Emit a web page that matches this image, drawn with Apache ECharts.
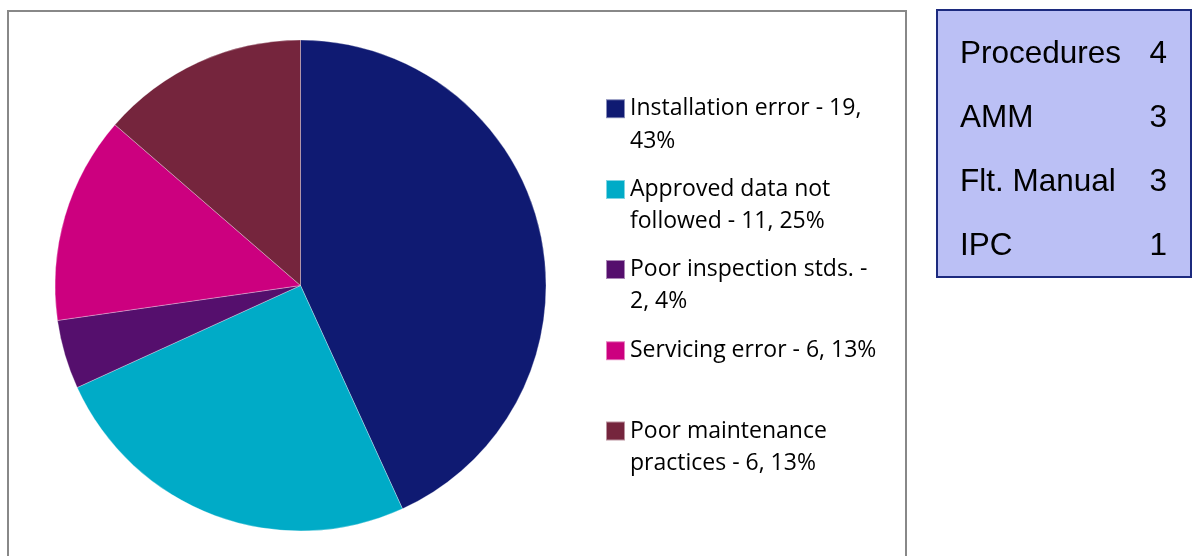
<!DOCTYPE html>
<html>
<head>
<meta charset="utf-8">
<script src="https://cdn.jsdelivr.net/npm/echarts@6/dist/echarts.min.js"></script>
<style>
  html, body { margin: 0; padding: 0; background: #fff; }
  #chart { width: 1194px; height: 556px; }
</style>
</head>
<body>
<div id="chart"></div>
<script>
// pie data
const categories = ['Installation error', 'Approved data not followed', 'Poor inspection stds.', 'Servicing error', 'Poor maintenance practices']
const counts = [19, 11, 2, 6, 6]
const percents = [43, 25, 4, 13, 13]
const colors = ['#0F1A72', '#00ABC7', '#550F6D', '#CC007F', '#75253D']
// word after which the legend text wraps (null = one line)
const wrapAfter = ['19,', 'not', '-', null, 'maintenance']

// side table
const tableLabels = ['Procedures', 'AMM', 'Flt. Manual', 'IPC']
const tableValues = [4, 3, 3, 1]

// legend layout
const legendCenters = [108.7, 189.5, 269.5, 350.7, 431]
const lineH = 32.3

function legendText (i) {
  const words = `${categories[i]} - ${counts[i]}, ${percents[i]}%`.split(' ')
  const k = words.indexOf(wrapAfter[i])
  if (k < 0) return words.join(' ')
  // leading blank line keeps the first line level with the marker
  return '\n' + words.slice(0, k + 1).join(' ') + '\n' + words.slice(k + 1).join(' ')
}

const legends = categories.map((name, i) => {
  const lines = wrapAfter[i] ? 3 : 1
  return {
    data: [name],
    orient: 'vertical',
    left: 605,
    top: legendCenters[i] - lines * lineH / 2,
    padding: 0,
    itemWidth: 19,
    itemHeight: 19,
    icon: 'rect',
    selectedMode: false,
    formatter: () => legendText(i),
    textStyle: {
      fontFamily: 'Open Sans',
      fontSize: 23,
      color: '#000',
      lineHeight: lineH
    }
  }
})

const tableRowY = [54, 118, 182, 246]
const tableFont = '31.5px "Liberation Sans", Arial'
const tableGraphics = [
  {
    type: 'rect',
    shape: { x: 937, y: 10, width: 254, height: 267 },
    style: { fill: '#BBC0F5', stroke: '#1C2A7E', lineWidth: 2 }
  }
]
tableLabels.forEach((lab, i) => {
  tableGraphics.push({
    type: 'text',
    x: 960,
    y: tableRowY[i],
    style: { text: lab, font: tableFont, fill: '#000', verticalAlign: 'middle', align: 'left' }
  })
  tableGraphics.push({
    type: 'text',
    x: 1167,
    y: tableRowY[i],
    style: { text: String(tableValues[i]), font: tableFont, fill: '#000', verticalAlign: 'middle', align: 'right' }
  })
})

const chart = echarts.init(document.getElementById('chart'))
chart.setOption({
  animation: false,
  backgroundColor: '#fff',
  color: colors,
  legend: legends,
  graphic: [
    {
      type: 'rect',
      shape: { x: 8, y: 11, width: 898, height: 600 },
      style: { fill: 'none', stroke: '#888', lineWidth: 2 }
    }
  ].concat(tableGraphics),
  series: [
    {
      type: 'pie',
      center: [300.5, 285.5],
      radius: 245.5,
      startAngle: 90,
      clockwise: true,
      label: { show: false },
      labelLine: { show: false },
      itemStyle: { borderColor: 'rgba(255,255,255,0.5)', borderWidth: 0.6 },
      data: categories.map((name, i) => ({ name, value: counts[i] }))
    }
  ]
})
</script>
</body>
</html>
